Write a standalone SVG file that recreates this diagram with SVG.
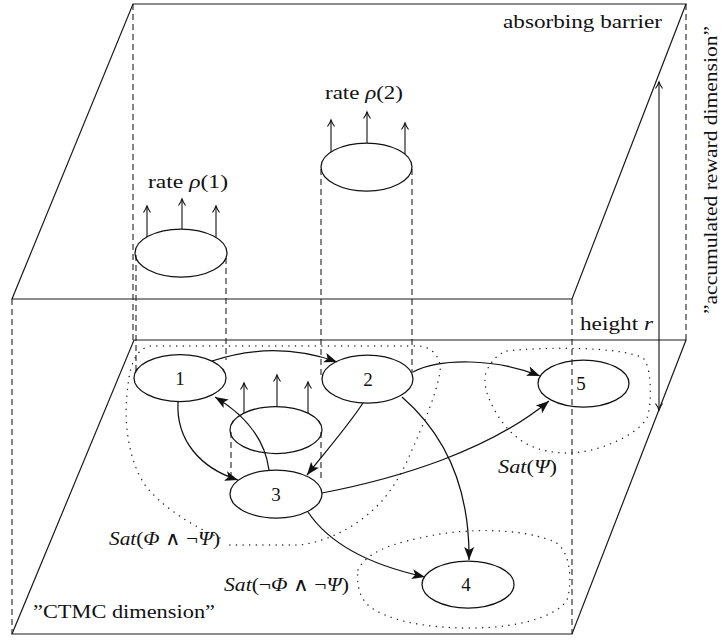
<svg xmlns="http://www.w3.org/2000/svg" width="723" height="640" viewBox="0 0 723 640">
<style>
.plane{fill:none;stroke:#1a1a1a;stroke-width:1.2}
.dash{fill:none;stroke:#222;stroke-width:1.1;stroke-dasharray:6 4}
.dot{fill:none;stroke:#222;stroke-width:1.4;stroke-dasharray:0.1 6.5;stroke-linecap:round}
.node{fill:none;stroke:#111;stroke-width:1.25}
.edge{fill:none;stroke:#111;stroke-width:1.25;marker-end:url(#head)}
.rate{fill:none;stroke:#111;stroke-width:1.1;marker-end:url(#open)}
.t{font-family:'Liberation Serif','Times New Roman',Times,serif;font-size:19px;fill:#111}
.it{font-style:italic}
.lbl{text-anchor:middle}
</style>
<defs>
<marker id="head" markerUnits="userSpaceOnUse" markerWidth="15" markerHeight="12" viewBox="-14 -6 15 12" refX="0" refY="0" orient="auto"><path d="M0,0 L-13,-5 L-10,0 L-13,5 Z" fill="#111"/></marker>
<marker id="open" markerUnits="userSpaceOnUse" markerWidth="10" markerHeight="10" viewBox="-8 -5 10 10" refX="0" refY="0" orient="auto-start-reverse"><path d="M-6.5,-3.5 Q-3,-1 0,0 Q-3,1 -6.5,3.5" fill="none" stroke="#111" stroke-width="1.1"/></marker>
</defs>

<g id="planes">
<polygon class="plane" points="133,4 686,4 572,299 12,299"/>
<polygon class="plane" points="134,340 686,340 572,634 12,634"/>
</g>

<g id="guides">
<line class="dash" x1="12" y1="299" x2="12" y2="634"/>
<line class="dash" x1="133" y1="4" x2="133" y2="340"/>
<line class="dash" x1="686" y1="4" x2="686" y2="340"/>
<line class="dash" x1="572" y1="299" x2="572" y2="634"/>
<line class="dash" x1="136" y1="255" x2="136" y2="372"/>
<line class="dash" x1="226" y1="258" x2="226" y2="360"/>
<line class="dash" x1="321" y1="169" x2="321" y2="375"/>
<line class="dash" x1="412" y1="169" x2="412" y2="373"/>
<line class="dash" x1="231" y1="432" x2="231" y2="481"/>
<line class="dash" x1="321" y1="432" x2="321" y2="481"/>
</g>

<g id="regions">
<path class="dot" d="M220,538 C190,525 160,505 145,485 C128,460 124,420 127,395 C129,370 133,350 150,346 L420,346 C432,347 442,358 440,372 C436,395 425,420 415,443 C405,467 395,487 380,503 C362,522 335,540 300,545 L225,545"/>
<path class="dot" d="M507,351 C540,347 620,346 643,358 C652,366 652,405 647,418 C637,435 600,452 570,453 C540,453 520,445 503,423 C492,408 480,385 487,370 C492,360 498,354 507,351 Z"/>
<path class="dot" d="M358,570 C365,555 385,545 420,538 C460,528 520,527 555,542 C572,552 572,585 567,600 C555,618 515,628 470,628 C430,628 395,622 375,610 C362,603 356,590 358,570 Z"/>
</g>

<g id="reward1">
<ellipse class="node" cx="181" cy="253" rx="46" ry="24"/>
<line class="rate" x1="147" y1="237" x2="147" y2="206"/>
<line class="rate" x1="182" y1="229" x2="182" y2="199"/>
<line class="rate" x1="216" y1="237" x2="216" y2="206"/>
<text class="t" x="148" y="188" textLength="80" lengthAdjust="spacingAndGlyphs">rate <tspan class="it">ρ</tspan>(1)</text>
</g>
<g id="reward2">
<ellipse class="node" cx="366.5" cy="167" rx="45.5" ry="24"/>
<line class="rate" x1="331" y1="152" x2="331" y2="120"/>
<line class="rate" x1="367" y1="143" x2="367" y2="112"/>
<line class="rate" x1="405" y1="154" x2="405" y2="123"/>
<text class="t" x="325" y="99" textLength="78" lengthAdjust="spacingAndGlyphs">rate <tspan class="it">ρ</tspan>(2)</text>
</g>
<g id="reward3">
<ellipse class="node" cx="276" cy="430" rx="46" ry="23.5"/>
<line class="rate" x1="244" y1="413" x2="244" y2="383"/>
<line class="rate" x1="277" y1="407" x2="277" y2="375"/>
<line class="rate" x1="308" y1="413" x2="308" y2="382"/>
</g>

<g id="n1"><ellipse class="node" cx="180" cy="378" rx="46" ry="23.5"/><text class="t lbl" x="180" y="385">1</text></g>
<g id="n2"><ellipse class="node" cx="367.5" cy="379" rx="45.5" ry="24"/><text class="t lbl" x="368" y="386">2</text></g>
<g id="n3"><ellipse class="node" cx="276" cy="494" rx="46" ry="24"/><text class="t lbl" x="276" y="501">3</text></g>
<g id="n4"><ellipse class="node" cx="468" cy="584.5" rx="46" ry="23.5"/><text class="t lbl" x="466" y="591">4</text></g>
<g id="n5"><ellipse class="node" cx="583.5" cy="383.5" rx="45.5" ry="23.5"/><text class="t lbl" x="581" y="390">5</text></g>

<g id="connectors">
<path class="edge" d="M212,361 Q275,340 337,362"/>
<path class="edge" d="M178,402 C176,440 200,468 238,480"/>
<path class="edge" d="M269,470 C265,440 245,415 215,397"/>
<path class="edge" d="M363,403 C345,430 325,452 307,475"/>
<path class="edge" d="M413,372 C440,358 495,358 540,376"/>
<path class="edge" d="M402,397 C440,430 470,480 469,560"/>
<path class="edge" d="M322,493 C400,478 490,450 549,401"/>
<path class="edge" d="M308,512 C330,545 370,565 425,577"/>
<path fill="none" stroke="#111" stroke-width="1.1" marker-start="url(#open)" marker-end="url(#open)" d="M659,410 L659,82"/>
</g>

<g id="labels">
<text class="t" x="503" y="28" textLength="159" lengthAdjust="spacingAndGlyphs">absorbing barrier</text>
<text class="t" x="580" y="330" textLength="73" lengthAdjust="spacingAndGlyphs">height <tspan class="it">r</tspan></text>
<text class="t" x="498" y="473" textLength="59" lengthAdjust="spacingAndGlyphs"><tspan class="it">Sat</tspan>(<tspan class="it">Ψ</tspan>)</text>
<text class="t" x="109" y="545" textLength="111" lengthAdjust="spacingAndGlyphs"><tspan class="it">Sat</tspan>(<tspan class="it">Φ</tspan> ∧ ¬<tspan class="it">Ψ</tspan>)</text>
<text class="t" x="224" y="591" textLength="125" lengthAdjust="spacingAndGlyphs"><tspan class="it">Sat</tspan>(¬<tspan class="it">Φ</tspan> ∧ ¬<tspan class="it">Ψ</tspan>)</text>
<text class="t" x="33" y="618" textLength="182" lengthAdjust="spacingAndGlyphs">”CTMC dimension”</text>
<text class="t" x="717" y="314" transform="rotate(-90 717 314)" textLength="288" lengthAdjust="spacingAndGlyphs">”accumulated reward dimension”</text>
</g>
</svg>
